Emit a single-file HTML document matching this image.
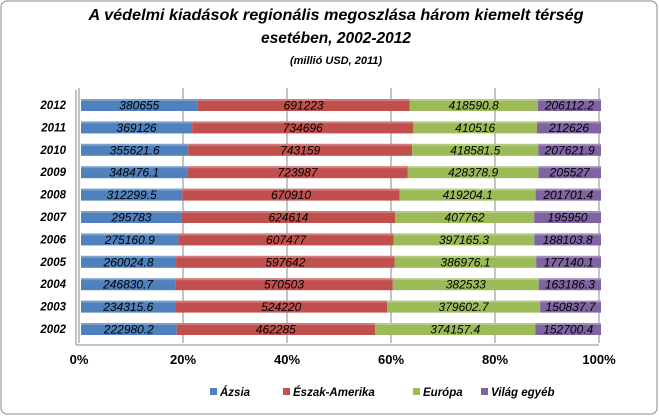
<!DOCTYPE html>
<html><head><meta charset="utf-8"><style>
body{margin:0;background:#fff;}
svg{display:block;font-family:"Liberation Sans",sans-serif;}
</style></head><body>
<svg id="c" width="659" height="416">
<rect x="1" y="1" width="656" height="413" rx="6" fill="#fff" stroke="#8a8a8a"/>
<text x="336" y="20" text-anchor="middle" font-size="15.5" font-weight="bold" font-style="italic" textLength="495" lengthAdjust="spacingAndGlyphs">A védelmi kiadások regionális megoszlása három kiemelt térség</text>
<text x="336" y="43" text-anchor="middle" font-size="15.5" font-weight="bold" font-style="italic">esetében, 2002-2012</text>
<text x="336" y="64" text-anchor="middle" font-size="11" font-weight="bold" font-style="italic">(millió USD, 2011)</text>
<g id="grid"></g><g id="bars"></g><g id="axes"></g>
<g id="legend"></g>
</svg>
<script>
const years=["2012","2011","2010","2009","2008","2007","2006","2005","2004","2003","2002"];
const azsia=[380655,369126,355621.6,348476.1,312299.5,295783,275160.9,260024.8,246830.7,234315.6,222980.2];
const eszakAmerika=[691223,734696,743159,723987,670910,624614,607477,597642,570503,524220,462285];
const europa=[418590.8,410516,418581.5,428378.9,419204.1,407762,397165.3,386976.1,382533,379602.7,374157.4];
const vilagEgyeb=[206112.2,212626,207621.9,205527,201701.4,195950,188103.8,177140.1,163186.3,150837.7,152700.4];
const ticks=["0%","20%","40%","60%","80%","100%"];
const seriesNames=["Ázsia","Észak-Amerika","Európa","Világ egyéb"];
const series=[azsia,eszakAmerika,europa,vilagEgyeb];
const colors=["#4f81bd","#c0504d","#9bbb59","#8064a2"];
const NS="http://www.w3.org/2000/svg";
const x0=79,x1=599,yTop=105,yStep=22.4;
const xs=f=>x0+f*(x1-x0);
const ys=i=>yTop+i*yStep;
function mk(t,a,p){const e=document.createElementNS(NS,t);for(const k in a)e.setAttribute(k,a[k]);p.appendChild(e);return e;}
const grid=document.getElementById('grid'),bars=document.getElementById('bars'),axes=document.getElementById('axes'),leg=document.getElementById('legend');
ticks.forEach((t,i)=>{const x=xs(i/(ticks.length-1));
const l=mk('line',{x1:x,y1:88,x2:x,y2:343,stroke:'#8a8a8a','stroke-width':1},grid);


const tx=mk('text',{x:x,y:364,'text-anchor':'middle','font-size':13,'font-weight':'bold'},axes);tx.textContent=t;


});
mk('line',{x1:76,y1:90,x2:76,y2:345,stroke:'#8a8a8a'},axes);
mk('line',{x1:76,y1:345,x2:x1,y2:345,stroke:'#8a8a8a'},axes);
years.forEach((y,i)=>{
const cy=ys(i);const total=series.reduce((s,a)=>s+a[i],0);let acc=0;
const yl=mk('text',{x:66,y:cy+4,'text-anchor':'end','font-size':11.5,'font-weight':'bold','font-style':'italic'},axes);yl.textContent=y;


series.forEach((s,k)=>{
const a=xs(acc/total)+2,b=xs((acc+s[i])/total)+2;acc+=s[i];
const r=mk('rect',{x:a,y:cy-6,width:b-a,height:12,fill:colors[k]},bars);


mk('rect',{x:a,y:cy-6,width:b-a,height:2,fill:'#fff','fill-opacity':0.25},bars);
const t=mk('text',{x:(a+b)/2,y:cy+4.5,'text-anchor':'middle','font-size':12,'font-style':'italic',fill:'#000'},bars);
t.textContent=String(s[i]);


});
});
let lx=[210,283,413,481];
seriesNames.forEach((n,k)=>{
const r=mk('rect',{x:lx[k],y:388,width:7,height:7,fill:colors[k]},leg);


const t=mk('text',{x:lx[k]+10,y:396,'font-size':11.5,'font-weight':'bold','font-style':'italic'},leg);t.textContent=n;


});
</script>
</body></html>
